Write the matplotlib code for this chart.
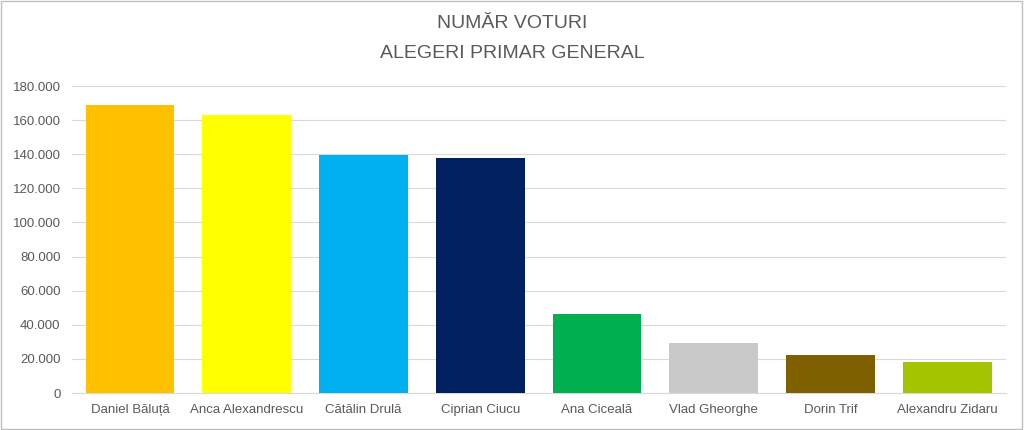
import matplotlib
matplotlib.use("Agg")
import matplotlib.pyplot as plt
from matplotlib.ticker import FuncFormatter

candidati = ["Daniel Băluță", "Anca Alexandrescu", "Cătălin Drulă", "Ciprian Ciucu",
             "Ana Ciceală", "Vlad Gheorghe", "Dorin Trif", "Alexandru Zidaru"]
voturi = [168900, 162800, 139600, 137900, 46300, 29300, 22300, 18200]
culori = ["#FFC000", "#FFFF00", "#00B0F0", "#002060", "#00B050", "#C9C9C9", "#7F6000", "#A5C400"]

plt.rcParams['font.family'] = ['Liberation Sans', 'DejaVu Sans']

fig = plt.figure(figsize=(10.24, 4.30), dpi=100)
ax = fig.add_axes([0.070, 0.086, 0.912, 0.714])

ax.bar(range(len(candidati)), voturi, width=0.76, color=culori, zorder=3)
ax.set_xlim(-0.5, len(candidati) - 0.5)
ax.set_ylim(0, 180000)
ax.set_yticks(range(0, 180001, 20000))
ax.yaxis.set_major_formatter(FuncFormatter(lambda v, p: f"{int(v):,}".replace(",", ".")))
ax.set_xticks(range(len(candidati)))
ax.set_xticklabels(candidati)
ax.grid(axis='y', color='#D9D9D9', linewidth=0.8, zorder=0)
for s in ['top', 'right', 'left']:
    ax.spines[s].set_visible(False)
ax.spines['bottom'].set_color('#D9D9D9')
ax.tick_params(length=0, labelsize=9.5, colors='#595959', pad=8)

fig.text(0.5, 0.935, "NUMĂR VOTURI", ha='center', fontsize=14, color='#595959')
fig.text(0.5, 0.865, "ALEGERI PRIMAR GENERAL", ha='center', fontsize=14, color='#595959')

fig.patches.append(plt.Rectangle((0.001, 0.002), 0.997, 0.995, transform=fig.transFigure,
                                 fill=False, edgecolor='#BFBFBF', linewidth=1))
fig.savefig("out.png", dpi=100)
